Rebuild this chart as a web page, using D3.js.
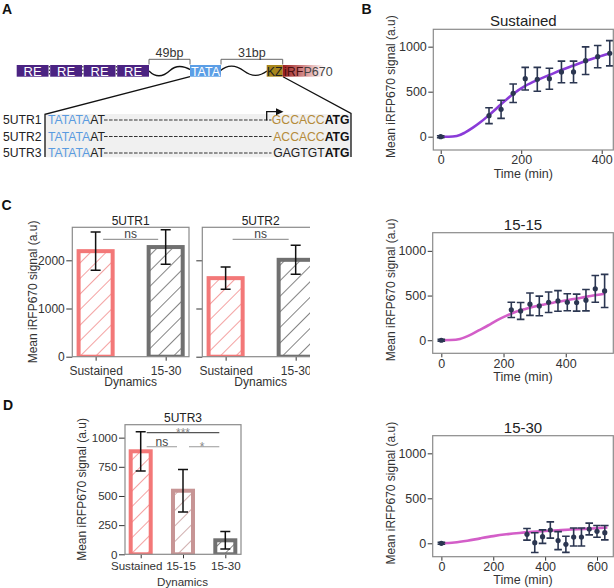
<!DOCTYPE html>
<html><head><meta charset="utf-8">
<script src="https://cdn.jsdelivr.net/npm/d3@7"></script>
<style>
body{margin:0;background:#fff}
svg{display:block}
text{font-family:"Liberation Sans",Arial,sans-serif}
</style>
</head><body>
<svg id="chart" width="614" height="588"></svg>
<script>
// ---------------- DATA ----------------
// Panel A
const reBoxes = ["RE","RE","RE","RE"];
const utrNames = ["5UTR1","5UTR2","5UTR3"];
const utrStart = ["TATATA","TATATA","TATATA"];
const utrMid = ["AT","AT","AT"];
const utrKozak = ["GCCACC","ACCACC","GAGTGT"];
const utrStartCodon = ["ATG","ATG","ATG"];
const spacerLabels = ["49bp","31bp"];

// Panel B (time courses)
const bYTicks = [0,500,1000];
const sustainedTime = [0,120,150,180,210,240,270,300,330,360,390,420];
const sustainedMean = [0,233,304,482,644,637,644,719,719,844,889,927];
const sustainedErr  = [10,88,101,103,126,133,117,120,120,154,124,140];
const sustainedFitT = [0,20,40,60,80,100,120,150,180,210,240,270,300,330,360,390,420];
const sustainedFitV = [0,0,8,45,100,165,240,360,475,565,630,685,740,790,840,885,925];

const p1515Time = [0,225,255,285,315,345,375,405,435,465,495,525];
const p1515Mean = [0,340,328,403,384,425,440,425,421,448,575,552];
const p1515Err  = [10,85,95,125,110,115,115,95,95,120,150,185];
const p1515FitT = [0,30,60,90,120,150,180,210,240,270,300,330,360,390,420,450,480,525];
const p1515FitV = [0,2,15,55,110,165,225,275,318,350,378,400,420,440,458,475,495,520];

const p1530Time = [0,330,360,390,420,450,480,510,540,570,600,630];
const p1530Mean = [0,100,7,74,148,30,-11,70,70,159,133,118];
const p1530Err  = [10,65,110,75,90,100,90,100,100,65,65,80];
const p1530FitT = [0,50,100,150,200,250,300,350,400,450,500,550,600,640];
const p1530FitV = [0,8,28,55,80,100,115,127,137,145,153,160,168,176];

// Panel C
const cCategories = ["Sustained","15-30"];
const cTicks = [0,1000,2000];
const utr1Mean = [2190,2275];
const utr1Err  = [398,359];
const utr2Mean = [1630,2010];
const utr2Err  = [230,300];
const cSig = ["ns","ns"];

// Panel D
const dCategories = ["Sustained","15-15","15-30"];
const dTicks = [0,250,500,750,1000];
const utr3Mean = [883,545,120];
const utr3Err  = [168,183,75];
const dSigPairs = [[0,2],[0,1],[1,2]];
const dSigLabels = ["***","ns","*"];

// ---------------- STYLE ----------------
const TXT = "#333";
const FRAME = "#8a8a8a";
const catEdge = {"Sustained":"#f37878","15-15":"#c79595","15-30":"#707070"};
const catHatch = {"Sustained":"#f28a8a","15-15":"#c49a9a","15-30":"#666"};

const svg = d3.select("#chart");
svg.append("rect").attr("width",614).attr("height",588).attr("fill","#fff");
const defs = svg.append("defs");

// hatch patterns
Object.keys(catHatch).forEach((k,i)=>{
  const p = defs.append("pattern").attr("id","hatch"+i).attr("patternUnits","userSpaceOnUse")
    .attr("width",11).attr("height",11).attr("patternTransform","rotate(45)");
  p.append("rect").attr("width",11).attr("height",11).attr("fill","#fff");
  p.append("line").attr("x1",0).attr("y1",0).attr("x2",0).attr("y2",11)
    .attr("stroke",catHatch[k]).attr("stroke-width",1.6);
});
const hatchId = k => "url(#hatch"+Object.keys(catHatch).indexOf(k)+")";

// gradient for iRFP
const grad = defs.append("linearGradient").attr("id","irfp").attr("x1","0").attr("x2","1");
grad.append("stop").attr("offset","0%").attr("stop-color","#9a1c1c");
grad.append("stop").attr("offset","55%").attr("stop-color","#d99595");
grad.append("stop").attr("offset","100%").attr("stop-color","#ffffff");

// panel letters
[["A",2,13.5],["B",361.5,13.5],["C",1.5,210],["D",3,409.5]].forEach(d=>{
  svg.append("text").attr("x",d[1]).attr("y",d[2]).text(d[0])
    .attr("font-size",14).attr("font-weight","bold").attr("fill","#111");
});

// ---------------- PANEL A ----------------
(function(){
  const g = svg.append("g");
  const yTop = 65, yBot = 76.7, yMid = 71;
  defs.append("clipPath").attr("id","seqClip").append("rect").attr("x",0).attr("y",100).attr("width",614).attr("height",57.2);
  const sg = g.append("g").attr("clip-path","url(#seqClip)");
  sg.append("rect").attr("x",45).attr("y",114).attr("width",306).attr("height",44).attr("fill","#f0f0f0");

  g.append("path").attr("d","M45,157 L45,114.3 L190,76.7").attr("fill","none").attr("stroke","#111").attr("stroke-width",1.3);
  g.append("path").attr("d","M351,157 L351,113.5 L283,76.7").attr("fill","none").attr("stroke","#111").attr("stroke-width",1.3);

  g.append("path").attr("d","M149,71 C156,78 163,77 170,70.5 S184,66 191,70").attr("fill","none").attr("stroke","#111").attr("stroke-width",1.3);
  g.append("path").attr("d","M220,71 C228,64 236,65 244,71 S259,77 267,71").attr("fill","none").attr("stroke","#111").attr("stroke-width",1.3);

  const rx = d3.scaleBand().domain(d3.range(reBoxes.length)).range([16.7,149]).paddingInner(0.05);
  reBoxes.forEach((t,i)=>{
    g.append("rect").attr("x",rx(i)).attr("y",yTop).attr("width",rx.bandwidth()).attr("height",yBot-yTop).attr("fill","#4b2382");
    g.append("text").attr("x",rx(i)+rx.bandwidth()/2).attr("y",yMid+4.6).attr("text-anchor","middle")
      .attr("font-size",13).attr("fill","#fff").text(t);
    if(i>0){
      const gx = rx(i)-rx.step()*0.025;
      g.append("line").attr("x1",gx).attr("x2",gx).attr("y1",66).attr("y2",76).attr("stroke","#222").attr("stroke-width",1).attr("stroke-dasharray","1.5,2");
    }
  });
  g.append("rect").attr("x",190).attr("y",yTop).attr("width",31).attr("height",yBot-yTop).attr("fill","#5b9ee6");
  g.append("text").attr("x",205.5).attr("y",yMid+4.6).attr("text-anchor","middle").attr("font-size",12.5).attr("fill","#fff").text("TATA");
  g.append("rect").attr("x",266.7).attr("y",yTop).attr("width",16).attr("height",yBot-yTop).attr("fill","#a8861c");
  g.append("text").attr("x",274.7).attr("y",yMid+4.6).attr("text-anchor","middle").attr("font-size",12.5).attr("fill","#222").text("KZ");
  g.append("rect").attr("x",282.7).attr("y",yTop).attr("width",42).attr("height",yBot-yTop).attr("fill","url(#irfp)");
  const it = g.append("text").attr("x",284).attr("y",yMid+4.6).attr("font-size",12.5);
  it.append("tspan").attr("fill","#4a0f0f").text("iRF");
  it.append("tspan").attr("fill","#444").text("P670");

  [[149,190,spacerLabels[0]],[221,282.7,spacerLabels[1]]].forEach(b=>{
    g.append("path").attr("d",`M${b[0]},64.5 L${b[0]},59.3 L${b[1]},59.3 L${b[1]},64.5`).attr("fill","none").attr("stroke","#666").attr("stroke-width",1);
    g.append("text").attr("x",(b[0]+b[1])/2).attr("y",56.5).attr("text-anchor","middle").attr("font-size",12.5).attr("fill",TXT).text(b[2]);
  });

  const rowY = [124,140.5,157];
  const kozakColor = ["#b58b3a","#b58b3a","#222"];
  utrNames.forEach((n,i)=>{
    const y = rowY[i];
    sg.append("text").attr("x",41.5).attr("y",y).attr("text-anchor","end").attr("font-size",12.2).attr("fill","#222").text(n);
    const t = sg.append("text").attr("x",48).attr("y",y).attr("font-size",12.2);
    t.append("tspan").attr("fill","#5a9be0").text(utrStart[i]);
    t.append("tspan").attr("fill","#222").text(utrMid[i]);
    sg.append("line").attr("x1",104).attr("x2",271.5).attr("y1",y-4).attr("y2",y-4)
      .attr("stroke","#333").attr("stroke-width",1).attr("stroke-dasharray","3.6,1.4");
    const r = sg.append("text").attr("x",349.5).attr("y",y).attr("text-anchor","end").attr("font-size",12.2);
    r.append("tspan").attr("fill",kozakColor[i]).text(utrKozak[i]);
    r.append("tspan").attr("fill","#111").attr("font-weight","bold").text(utrStartCodon[i]);
  });
  g.append("path").attr("d","M266.7,120.5 L266.7,111.7 L277,111.7").attr("fill","none").attr("stroke","#111").attr("stroke-width",1.3);
  g.append("path").attr("d","M276,108.2 L283.5,111.7 L276,115.2 Z").attr("fill","#111");
})();

// ---------------- PANEL B ----------------
function lineChart(o){
  const g = svg.append("g");
  const x = d3.scaleLinear().domain(o.xDom).range([o.l,o.r]);
  const y = d3.scaleLinear().domain(o.yDom).range([o.b,o.t]);
  const ya = g.append("g").attr("transform",`translate(${o.l},0)`)
    .call(d3.axisLeft(y).tickValues(bYTicks).tickSize(5).tickPadding(1.5).tickFormat(d3.format("d")));
  const xa = g.append("g").attr("transform",`translate(0,${o.b})`)
    .call(d3.axisBottom(x).tickValues(o.xTicks).tickSize(4).tickPadding(1.5).tickFormat(d3.format("d")));
  [ya,xa].forEach(a=>{
    a.select(".domain").remove();
    a.selectAll("line").attr("stroke","#333");
    a.selectAll("text").attr("font-size",12.5).attr("fill",TXT);
    a.attr("font-family",null);
  });
  defs.append("clipPath").attr("id",o.id).append("rect").attr("x",o.l).attr("y",o.t).attr("width",o.r-o.l).attr("height",o.b-o.t);
  const pg = g.append("g").attr("clip-path",`url(#${o.id})`);
  const line = d3.line().x(d=>x(d[0])).y(d=>y(d[1])).curve(d3.curveMonotoneX);
  pg.append("path").datum(d3.zip(o.fitT,o.fitV)).attr("d",line).attr("fill","none")
    .attr("stroke",o.color).attr("stroke-width",2.6);
  const pts = d3.zip(o.time,o.mean,o.err);
  const ec = "#2b3651";
  pts.forEach(p=>{
    const cx = x(p[0]), y1 = y(p[1]-p[2]), y2 = y(p[1]+p[2]);
    pg.append("line").attr("x1",cx).attr("x2",cx).attr("y1",y1).attr("y2",y2).attr("stroke",ec).attr("stroke-width",1.6);
    [y1,y2].forEach(yy=>pg.append("line").attr("x1",cx-3.8).attr("x2",cx+3.8).attr("y1",yy).attr("y2",yy).attr("stroke",ec).attr("stroke-width",1.6));
    pg.append("circle").attr("cx",cx).attr("cy",y(p[1])).attr("r",2.6).attr("fill",ec);
  });
  g.append("rect").attr("x",o.l).attr("y",o.t).attr("width",o.r-o.l).attr("height",o.b-o.t)
    .attr("fill","none").attr("stroke",FRAME).attr("stroke-width",1.2);
  g.append("text").attr("x",(o.l+o.r)/2).attr("y",o.t-3).attr("text-anchor","middle").attr("font-size",15).attr("fill","#222").text(o.title);
  g.append("text").attr("x",(o.l+o.r)/2).attr("y",o.b+27.5).attr("text-anchor","middle").attr("font-size",12.5).attr("fill",TXT).text("Time (min)");
  g.append("text").attr("transform",`translate(${o.l-38},${(o.t+o.b)/2-3}) rotate(-90)`).attr("text-anchor","middle")
    .attr("font-size",12).attr("fill",TXT).text("Mean iRFP670 signal (a.u)");
}
lineChart({id:"cb1",l:433.3,r:613.3,t:29.3,b:150,xDom:[-18.4,428.8],yDom:[-148,1193],xTicks:[0,200,400],
  time:sustainedTime,mean:sustainedMean,err:sustainedErr,fitT:sustainedFitT,fitV:sustainedFitV,color:"#8a3bd8",title:"Sustained"});
lineChart({id:"cb2",l:432.7,r:613.3,t:232.7,b:353.3,xDom:[-27.7,552.9],yDom:[-146,1203],xTicks:[0,200,400],
  time:p1515Time,mean:p1515Mean,err:p1515Err,fitT:p1515FitT,fitV:p1515FitV,color:"#d35ec8",title:"15-15"});
lineChart({id:"cb3",l:432.7,r:613.3,t:435.7,b:556.7,xDom:[-33.5,662.8],yDom:[-149,1196],xTicks:[0,200,400,600],
  time:p1530Time,mean:p1530Mean,err:p1530Err,fitT:p1530FitT,fitV:p1530FitV,color:"#d35ec8",title:"15-30"});

// ---------------- PANELS C & D ----------------
function barChart(o){
  const outer = svg.append("g");
  let g = outer;
  if(o.clipX){
    defs.append("clipPath").attr("id",o.id+"o").append("rect").attr("x",0).attr("y",0).attr("width",o.clipX).attr("height",588);
    g = outer.append("g").attr("clip-path",`url(#${o.id}o)`);
  }
  const x = d3.scalePoint().domain(o.cats).range([o.l,o.r]).padding(o.pad);
  const y = d3.scaleLinear().domain(o.yDom).range([o.b,o.t]);
  const bw = x.step()*o.bw;
  const ya = g.append("g").attr("transform",`translate(${o.l},0)`)
    .call(d3.axisLeft(y).tickValues(o.yTicks).tickSize(6).tickPadding(1.5).tickFormat(o.yLabels?d3.format("d"):""));
  const xa = g.append("g").attr("transform",`translate(0,${o.b})`)
    .call(d3.axisBottom(x).tickSize(4).tickPadding(o.xPad));
  [ya,xa].forEach(a=>{
    a.select(".domain").remove();
    a.selectAll("line").attr("stroke","#333");
    a.selectAll("text").attr("font-size",o.fs).attr("fill",TXT);
    a.attr("font-family",null);
  });
  if(o.labelShift) xa.selectAll("text").attr("dx",(d,i)=>o.labelShift[i]);
  defs.append("clipPath").attr("id",o.id).append("rect").attr("x",o.l).attr("y",o.t).attr("width",o.r-o.l).attr("height",o.b-o.t);
  const pg = g.append("g").attr("clip-path",`url(#${o.id})`);
  o.cats.forEach((c,i)=>{
    pg.append("rect").attr("x",x(c)-bw/2).attr("y",y(o.mean[i])).attr("width",bw).attr("height",y(0)-y(o.mean[i]))
      .attr("fill",hatchId(c)).attr("stroke",catEdge[c]).attr("stroke-width",4);
  });
  o.cats.forEach((c,i)=>{
    const cx = x(c), y1 = y(o.mean[i]-o.err[i]), y2 = y(o.mean[i]+o.err[i]);
    pg.append("line").attr("x1",cx).attr("x2",cx).attr("y1",y1).attr("y2",y2).attr("stroke","#111").attr("stroke-width",1.5);
    [y1,y2].forEach(yy=>pg.append("line").attr("x1",cx-5).attr("x2",cx+5).attr("y1",yy).attr("y2",yy).attr("stroke","#111").attr("stroke-width",1.5));
  });
  o.sig.forEach(s=>{
    const x1 = x(o.cats[s.a])+o.inset, x2 = x(o.cats[s.b])-o.inset;
    g.append("line").attr("x1",x1).attr("x2",x2).attr("y1",s.y).attr("y2",s.y).attr("stroke",s.lc).attr("stroke-width",1.2);
    g.append("text").attr("x",(x1+x2)/2+(s.dx||0)).attr("y",s.ty).attr("text-anchor","middle").attr("font-size",12).attr("fill",s.tc).text(s.label);
  });
  g.append("rect").attr("x",o.l).attr("y",o.t).attr("width",o.r-o.l).attr("height",o.b-o.t)
    .attr("fill","none").attr("stroke",FRAME).attr("stroke-width",1.2);
  g.append("text").attr("x",(o.l+o.r)/2).attr("y",o.t-2.5).attr("text-anchor","middle").attr("font-size",12).attr("fill","#222").text(o.title);
  g.append("text").attr("x",(o.l+o.r)/2 + (o.dynDx||0)).attr("y",o.dynY).attr("text-anchor","middle").attr("font-size",o.fs).attr("fill",TXT).text("Dynamics");
  if(o.yTitleX!==undefined){
    g.append("text").attr("transform",`translate(${o.yTitleX},${(o.t+o.b)/2})rotate(-90)`).attr("text-anchor","middle")
      .attr("font-size",12).attr("fill",TXT).text("Mean iRFP670 signal (a.u)");
  }
}
barChart({id:"cc1",l:72.3,r:189,t:227.3,b:356.7,cats:cCategories,pad:0.333,bw:0.486,yDom:[0,2685],yTicks:cTicks,yLabels:true,
  mean:utr1Mean,err:utr1Err,title:"5UTR1",dynY:385.5,yTitleX:36.5,inset:7.5,fs:12,xPad:6,
  sig:[{a:0,b:1,y:239.3,ty:238.3,label:cSig[0],lc:"#9a9a9a",tc:"#444"}]});
barChart({id:"cc2",l:202.3,r:319,t:227.3,b:356.7,clipX:310,cats:cCategories,pad:0.333,bw:0.486,yDom:[0,2685],yTicks:cTicks,yLabels:false,
  mean:utr2Mean,err:utr2Err,title:"5UTR2",dynY:385.5,inset:7,fs:12,xPad:6,
  sig:[{a:0,b:1,y:239.3,ty:238.3,label:cSig[1],lc:"#9a9a9a",tc:"#444"}]});
barChart({id:"cd1",l:125,r:241,t:424.7,b:554.3,cats:dCategories,pad:0.371,bw:0.473,yDom:[0,1111],yTicks:dTicks,yLabels:true,
  mean:utr3Mean,err:utr3Err,title:"5UTR3",dynY:585.5,dynDx:-0.5,yTitleX:85.5,inset:6,fs:11.6,xPad:3.5,labelShift:[-4.5,-2.5,0],
  sig:[{a:dSigPairs[0][0],b:dSigPairs[0][1],y:432.7,ty:436.5,label:dSigLabels[0],lc:"#555",tc:"#888"},
       {a:dSigPairs[1][0],b:dSigPairs[1][1],y:446.7,ty:446.2,label:dSigLabels[1],lc:"#aaa",tc:"#444"},
       {a:dSigPairs[2][0],b:dSigPairs[2][1],y:446.7,ty:451,label:dSigLabels[2],lc:"#aaa",tc:"#888",dx:-2}]});
</script>
</body></html>
